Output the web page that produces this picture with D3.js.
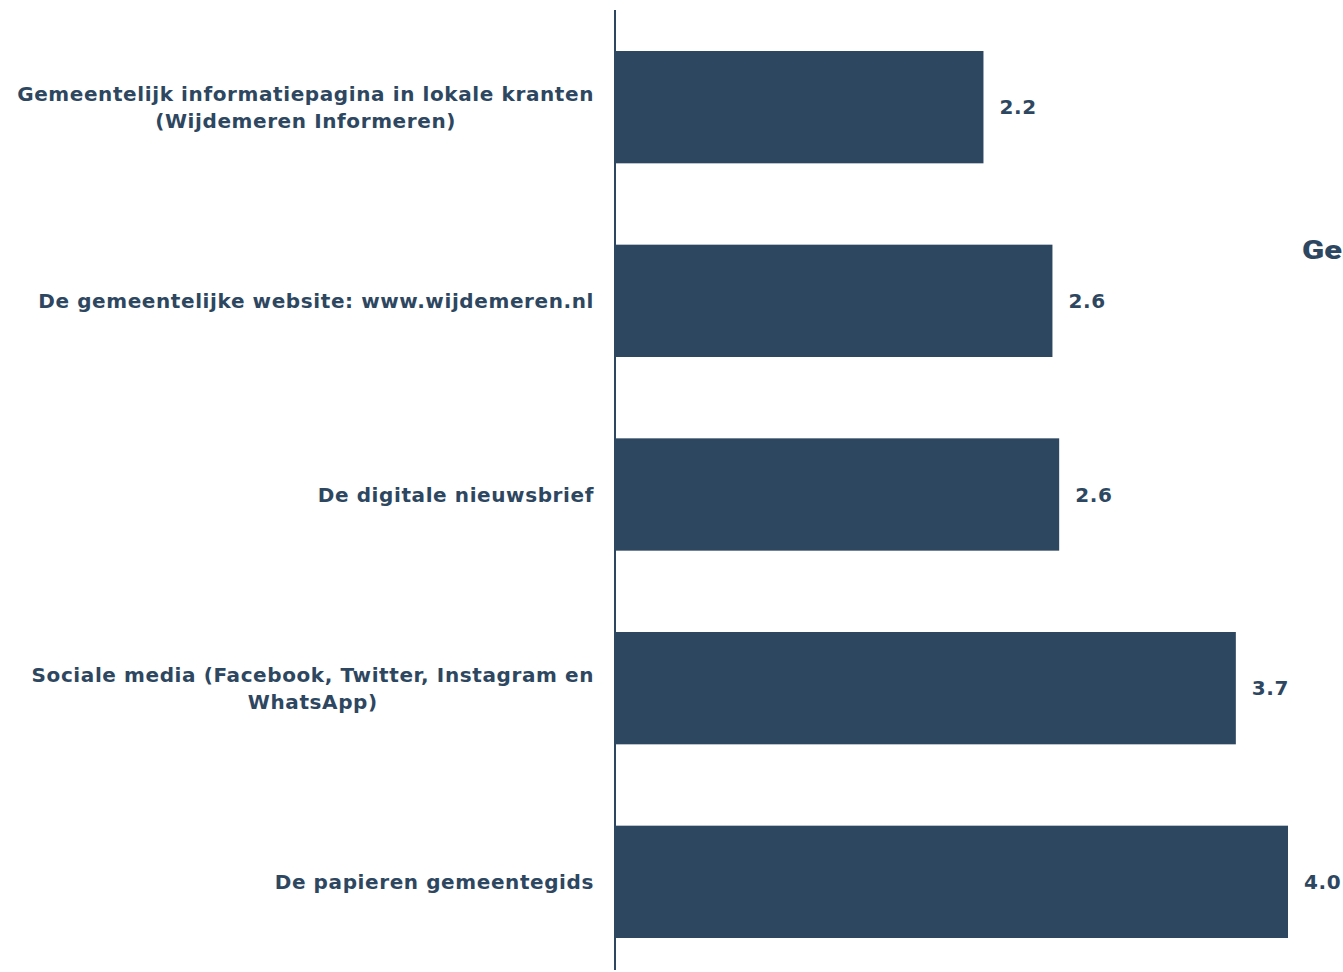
<!DOCTYPE html>
<html>
<head>
<meta charset="utf-8">
<script src="https://cdn.jsdelivr.net/npm/d3@7"></script>
<style>
  body { margin: 0; background: #fff; }
  svg { display: block; }
</style>
</head>
<body>
<div class="chart"></div>
<script>
var width = 1343,
    height = 972,
    barColor = "#2e4761",
    textColor = "#2e4761",
    labelRight = 594;

// data
var categories = [
  ["Gemeentelijk informatiepagina in lokale kranten", "(Wijdemeren Informeren)"],
  ["De gemeentelijke website: www.wijdemeren.nl"],
  ["De digitale nieuwsbrief"],
  ["Sociale media (Facebook, Twitter, Instagram en", "WhatsApp)"],
  ["De papieren gemeentegids"]
];
var values = [2.19, 2.6, 2.64, 3.69, 4.0];
var valueLabels = ["2.2", "2.6", "2.6", "3.7", "4.0"];

var data = values.map((v, i) => ({ v: v, lines: categories[i], label: valueLabels[i], i: i }));

const svg = d3.select(".chart").append("svg")
    .attr("width", width)
    .attr("height", height);

var x = d3.scaleLinear().domain([0, 4]).range([615, 1288]);
var y = d3.scaleBand()
    .domain(d3.range(data.length))
    .range([51, 938])
    .paddingInner(0.42)
    .paddingOuter(0);

svg.selectAll(".bar")
  .data(data)
  .enter()
  .append("rect")
  .attr("class", "bar")
  .attr("x", x(0))
  .attr("y", d => y(d.i))
  .attr("width", d => x(d.v) - x(0))
  .attr("height", y.bandwidth())
  .attr("fill", barColor);

// axis line
svg.append("line")
  .attr("x1", x(0)).attr("x2", x(0))
  .attr("y1", 10).attr("y2", 970)
  .attr("stroke", barColor)
  .attr("stroke-width", 2);

// category labels: block right aligned, lines centred inside it
var lab = svg.selectAll(".cat")
  .data(data)
  .enter()
  .append("text")
  .attr("class", "cat")
  .attr("text-anchor", "middle")
  .attr("font-family", "DejaVu Sans")
  .attr("font-weight", "bold")
  .attr("font-size", "20px")
  .attr("letter-spacing", "0.6px")
  .attr("fill", textColor);

lab.each(function(d) {
  var t = d3.select(this);
  var cy = y(d.i) + y.bandwidth() / 2;
  var n = d.lines.length;
  var spans = d.lines.map((ln, k) => t.append("tspan")
      .attr("y", cy + (k - (n - 1) / 2) * 27)
      .attr("dy", "0.35em")
      .text(ln));
  var w = d3.max(spans, s => s.node().getComputedTextLength());
  spans.forEach(s => s.attr("x", labelRight - w / 2));
});

// value labels
svg.selectAll(".val")
  .data(data)
  .enter()
  .append("text")
  .attr("class", "val")
  .attr("x", d => x(d.v) + 16)
  .attr("y", d => y(d.i) + y.bandwidth() / 2)
  .attr("dy", "0.35em")
  .attr("font-family", "DejaVu Sans")
  .attr("font-weight", "bold")
  .attr("font-size", "20px")
  .attr("letter-spacing", "0.6px")
  .attr("fill", textColor)
  .text(d => d.label);

// title, clipped by the right edge as in the original
svg.append("text")
  .attr("transform", "translate(1302,259) scale(1.25,1)")
  .attr("font-family", "Roboto")
  .attr("font-weight", 900)
  .attr("font-size", "26px")
  .attr("fill", textColor)
  .text("Gemiddeld");
</script>
</body>
</html>
